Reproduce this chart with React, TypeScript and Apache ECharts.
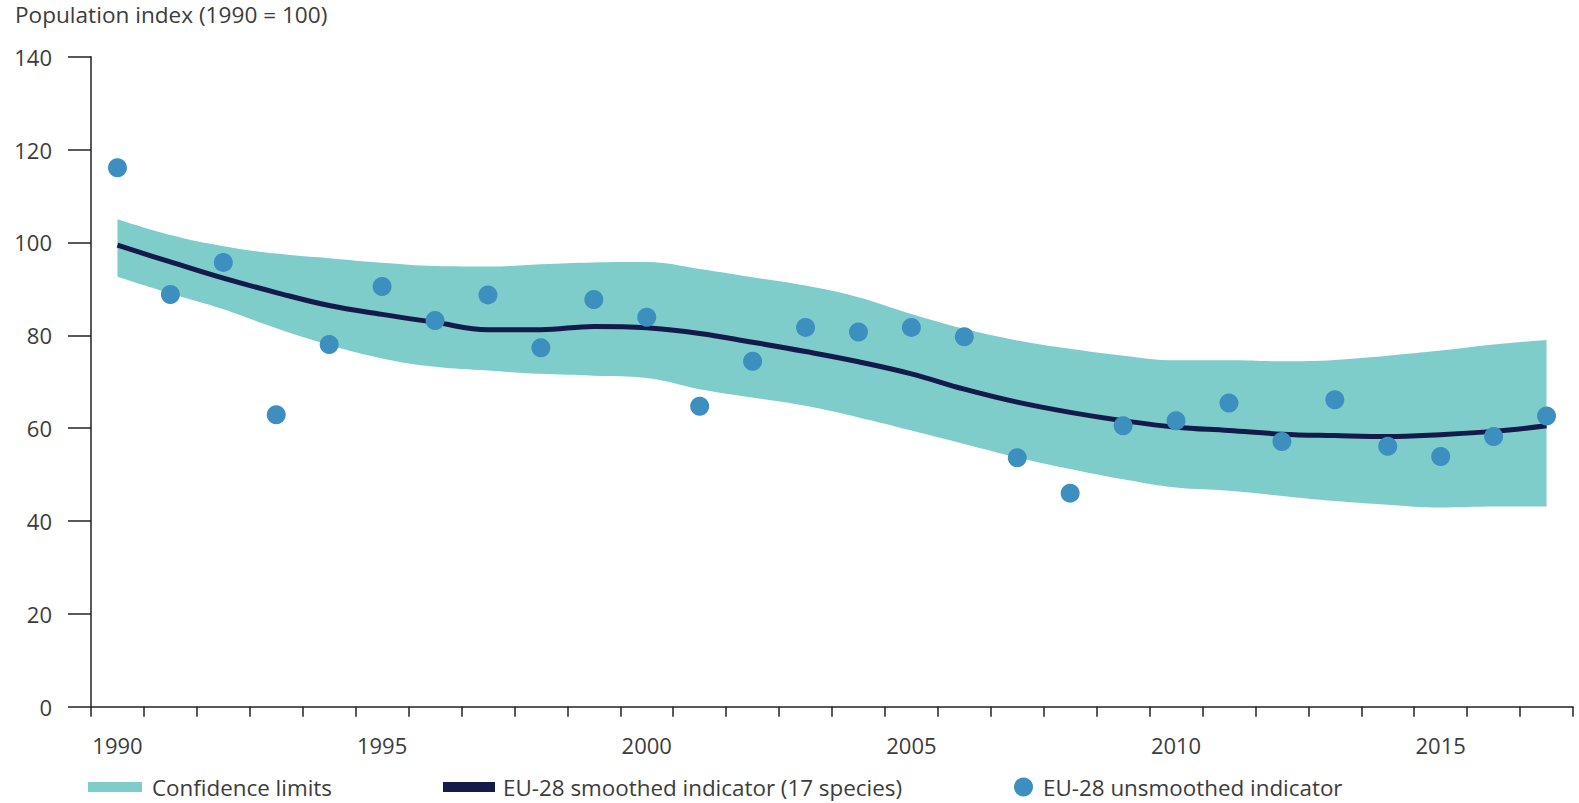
import React, { useEffect, useRef } from "react";
import * as echarts from "echarts";

const years = [
  "1990", "1991", "1992", "1993", "1994", "1995", "1996", "1997", "1998", "1999",
  "2000", "2001", "2002", "2003", "2004", "2005", "2006", "2007", "2008", "2009",
  "2010", "2011", "2012", "2013", "2014", "2015", "2016", "2017",
];

const unsmoothed = [
  116.1, 88.8, 95.7, 62.9, 78.0, 90.5, 83.2, 88.7, 77.3, 87.7,
  83.9, 64.7, 74.4, 81.7, 80.7, 81.7, 79.7, 53.6, 46.0, 60.5,
  61.6, 65.4, 57.1, 66.1, 56.1, 53.9, 58.2, 62.6,
];

const smoothed = [
  99.4, 95.8, 92.3, 89.2, 86.4, 84.5, 82.8, 81.2, 81.2, 81.9,
  81.6, 80.4, 78.5, 76.5, 74.3, 71.7, 68.4, 65.6, 63.4, 61.6,
  60.2, 59.5, 58.7, 58.4, 58.2, 58.6, 59.3, 60.5,
];

const upperLimit = [
  105.0, 101.6, 99.2, 97.6, 96.6, 95.6, 94.9, 94.8, 95.3, 95.7,
  95.8, 94.3, 92.5, 90.7, 88.2, 84.6, 81.4, 78.9, 77.1, 75.6,
  74.6, 74.6, 74.4, 74.7, 75.6, 76.7, 78.0, 79.0,
];

const lowerLimit = [
  92.6, 89.0, 85.6, 81.5, 77.9, 75.0, 73.2, 72.4, 71.7, 71.3,
  70.8, 68.4, 66.6, 64.8, 62.3, 59.5, 56.6, 53.7, 51.2, 49.0,
  47.2, 46.5, 45.4, 44.3, 43.5, 42.9, 43.1, 43.1,
];

const NAME_BAND = "Confidence limits";
const NAME_SMOOTH = "EU-28 smoothed indicator (17 species)";
const NAME_DOTS = "EU-28 unsmoothed indicator";

const BAND = "#7ecdca";
const NAVY = "#141a4a";
const DOT = "#3d8fbf";
const TEXT = "#3c3c3c";
const AXIS = "#222222";
const FONT = "Open Sans";

export default function App() {
  const ref = useRef<HTMLDivElement>(null);

  useEffect(() => {
    if (!ref.current) return;
    const chart = echarts.init(ref.current, null, { renderer: "svg" });
    const bandWidth = upperLimit.map((u, i) => +(u - lowerLimit[i]).toFixed(2));
    const legendText = { fontSize: 22.4, lineHeight: 20, color: TEXT, fontFamily: FONT };

    chart.setOption({
      animation: false,
      backgroundColor: "#ffffff",
      textStyle: { fontFamily: FONT },
      title: {
        text: "Population index (1990 = 100)",
        left: 15,
        top: 3,
        padding: 0,
        textStyle: { fontSize: 22.6, fontWeight: "normal", color: TEXT, fontFamily: FONT },
      },
      legend: [
        {
          left: 88,
          top: 776,
          padding: 0,
          itemWidth: 54,
          itemHeight: 10,
          data: [{ name: NAME_BAND, icon: "rect", itemStyle: { color: BAND } }],
          textStyle: { ...legendText, padding: [0, 0, 0, 5] },
          selectedMode: false,
        },
        {
          left: 443,
          top: 776,
          padding: 0,
          itemWidth: 52,
          itemHeight: 10,
          data: [{ name: NAME_SMOOTH, icon: "rect", itemStyle: { color: NAVY } }],
          textStyle: { ...legendText, padding: [0, 0, 0, 3] },
          selectedMode: false,
        },
        {
          left: 1014,
          top: 776,
          padding: 0,
          itemWidth: 19,
          itemHeight: 19,
          data: [{ name: NAME_DOTS, icon: "circle", itemStyle: { color: DOT, opacity: 1 } }],
          textStyle: { ...legendText, padding: [0, 0, 0, 5] },
          selectedMode: false,
        },
      ],
      grid: { left: 91, right: 6, top: 56.7, bottom: 96.3, containLabel: false },
      xAxis: {
        type: "category",
        data: years,
        boundaryGap: true,
        axisLine: { show: true, lineStyle: { color: AXIS, width: 1.5 } },
        axisTick: { show: true, interval: 0, length: 10, lineStyle: { color: AXIS, width: 1.5 } },
        axisLabel: { interval: 4, fontSize: 22, color: TEXT, margin: 27, fontFamily: FONT },
        splitLine: { show: false },
      },
      yAxis: {
        type: "value",
        min: 0,
        max: 140,
        interval: 20,
        axisLine: { show: true, lineStyle: { color: AXIS, width: 1.5 } },
        axisTick: { show: true, length: 23, lineStyle: { color: AXIS, width: 1.5 } },
        axisLabel: { fontSize: 22, color: TEXT, margin: 39, fontFamily: FONT },
        splitLine: { show: false },
      },
      series: [
        {
          name: "lower",
          type: "line",
          stack: "band",
          data: lowerLimit,
          smooth: 0.4,
          symbol: "none",
          lineStyle: { width: 0, opacity: 0 },
          silent: true,
          z: 1,
        },
        {
          name: NAME_BAND,
          type: "line",
          stack: "band",
          data: bandWidth,
          smooth: 0.4,
          symbol: "none",
          color: BAND,
          lineStyle: { width: 0, opacity: 0 },
          areaStyle: { color: BAND, opacity: 1 },
          silent: true,
          z: 1,
        },
        {
          name: NAME_SMOOTH,
          type: "line",
          data: smoothed,
          smooth: 0.4,
          symbol: "none",
          color: NAVY,
          lineStyle: { color: NAVY, width: 5 },
          z: 2,
        },
        {
          name: NAME_DOTS,
          type: "scatter",
          data: unsmoothed,
          symbol: "circle",
          symbolSize: 19,
          color: DOT,
          itemStyle: { color: DOT, opacity: 1 },
          z: 3,
        },
      ],
    });

    return () => chart.dispose();
  }, []);

  return (
    <div
      ref={ref}
      style={{ position: "fixed", left: 0, top: 0, width: 1579, height: 803, background: "#fff" }}
    />
  );
}
